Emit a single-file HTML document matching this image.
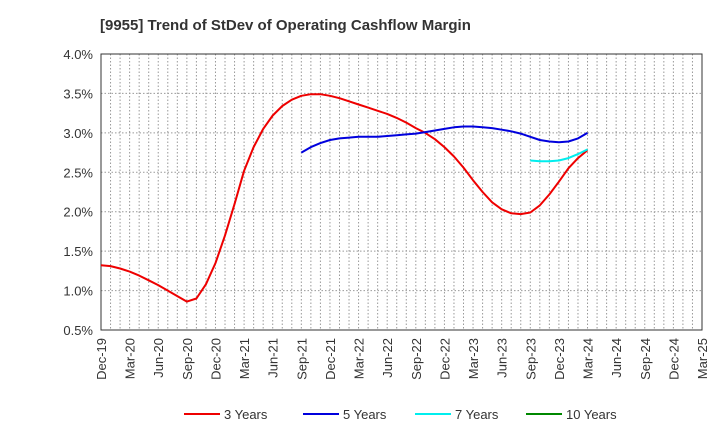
<!DOCTYPE html>
<html><head><meta charset="utf-8"><style>
body{margin:0;background:#fff;font-family:"Liberation Sans",sans-serif;}
svg text{font-family:"Liberation Sans",sans-serif;}
</style></head><body>
<svg width="720" height="440" xmlns="http://www.w3.org/2000/svg">
<text x="100" y="30" font-size="15" font-weight="bold" fill="#333">[9955]  Trend of StDev of Operating Cashflow Margin</text>
<g id="grid"></g>
<rect x="101" y="54" width="601" height="276" fill="none" stroke="#333" stroke-width="1"/>
<g id="yt"></g><g id="xt"></g><g id="series"></g><g id="legend"></g>
</svg>
<script>
const xLabels=["Dec-19","Mar-20","Jun-20","Sep-20","Dec-20","Mar-21","Jun-21","Sep-21","Dec-21","Mar-22","Jun-22","Sep-22","Dec-22","Mar-23","Jun-23","Sep-23","Dec-23","Mar-24","Jun-24","Sep-24","Dec-24","Mar-25"];
const yTicks=[0.5,1.0,1.5,2.0,2.5,3.0,3.5,4.0];
const red=[1.32,1.32,1.31,1.28,1.24,1.19,1.13,1.07,1.00,0.93,0.86,0.90,1.08,1.35,1.70,2.10,2.52,2.82,3.05,3.22,3.34,3.42,3.47,3.49,3.49,3.47,3.44,3.40,3.36,3.32,3.28,3.24,3.19,3.13,3.06,3.00,2.92,2.82,2.70,2.56,2.40,2.25,2.12,2.03,1.98,1.97,1.99,2.08,2.22,2.38,2.55,2.68,2.78];
const redStart=-1;
const blue=[2.75,2.82,2.87,2.91,2.93,2.94,2.95,2.95,2.95,2.96,2.97,2.98,2.99,3.01,3.03,3.05,3.07,3.08,3.08,3.07,3.06,3.04,3.02,2.99,2.95,2.91,2.89,2.88,2.89,2.93,3.00];
const blueStart=21;
const cyan=[2.65,2.64,2.64,2.65,2.68,2.73,2.79];
const cyanStart=45;
const NS="http://www.w3.org/2000/svg";
const X0=101,X1=702,Y0=330,Y1=54,NM=63;
function xs(i){return X0+(X1-X0)*i/NM;}
function ys(v){return Y0-(Y0-Y1)*(v-0.5)/3.5;}
function mk(t,a,p){const e=document.createElementNS(NS,t);for(const k in a)e.setAttribute(k,a[k]);p.appendChild(e);return e;}
const grid=document.getElementById('grid');
for(let m=1;m<NM;m++){const l=mk('line',{x1:xs(m),x2:xs(m),y1:Y1,y2:Y0,stroke:'#999','stroke-dasharray':'1.5,2','stroke-width':1},grid);

}
const yt=document.getElementById('yt');
yTicks.forEach(v=>{const l=mk('line',{x1:X0,x2:X1,y1:ys(v),y2:ys(v),stroke:'#999','stroke-dasharray':'1.5,2'},grid);


const t=mk('text',{x:93,y:ys(v)+5,'text-anchor':'end','font-size':13,fill:'#333'},yt);t.textContent=v.toFixed(1)+'%';

});
const xt=document.getElementById('xt');
xLabels.forEach((s,i)=>{const x=xs(i*3);const t=mk('text',{x:0,y:0,transform:`translate(${x+5},338) rotate(-90)`,'text-anchor':'end','font-size':13,fill:'#333'},xt);t.textContent=s;

});
const sg=document.getElementById('series');
function line(arr,start,col,name){const pts=arr.map((v,i)=>[start+i,v]).filter(p=>p[0]>=0).map(p=>xs(p[0]).toFixed(1)+','+ys(p[1]).toFixed(1)).join(' ');
const pl=mk('polyline',{points:pts,fill:'none',stroke:col,'stroke-width':2,'stroke-linejoin':'round'},sg);

}
line(red,redStart,'#ee0000','line-3-years');
line(blue,blueStart,'#0000dd','line-5-years');
line(cyan,cyanStart,'#00eeee','line-7-years');
const lg=document.getElementById('legend');
[["3 Years","#ee0000",184],["5 Years","#0000dd",303],["7 Years","#00eeee",415],["10 Years","#008800",526]].forEach(([n,c,x])=>{
const g=mk('g',{},lg);


mk('line',{x1:x,x2:x+36,y1:414,y2:414,stroke:c,'stroke-width':2},g);
const t=mk('text',{x:x+40,y:419,'font-size':13,fill:'#333'},g);t.textContent=n;});
</script>
</body></html>
